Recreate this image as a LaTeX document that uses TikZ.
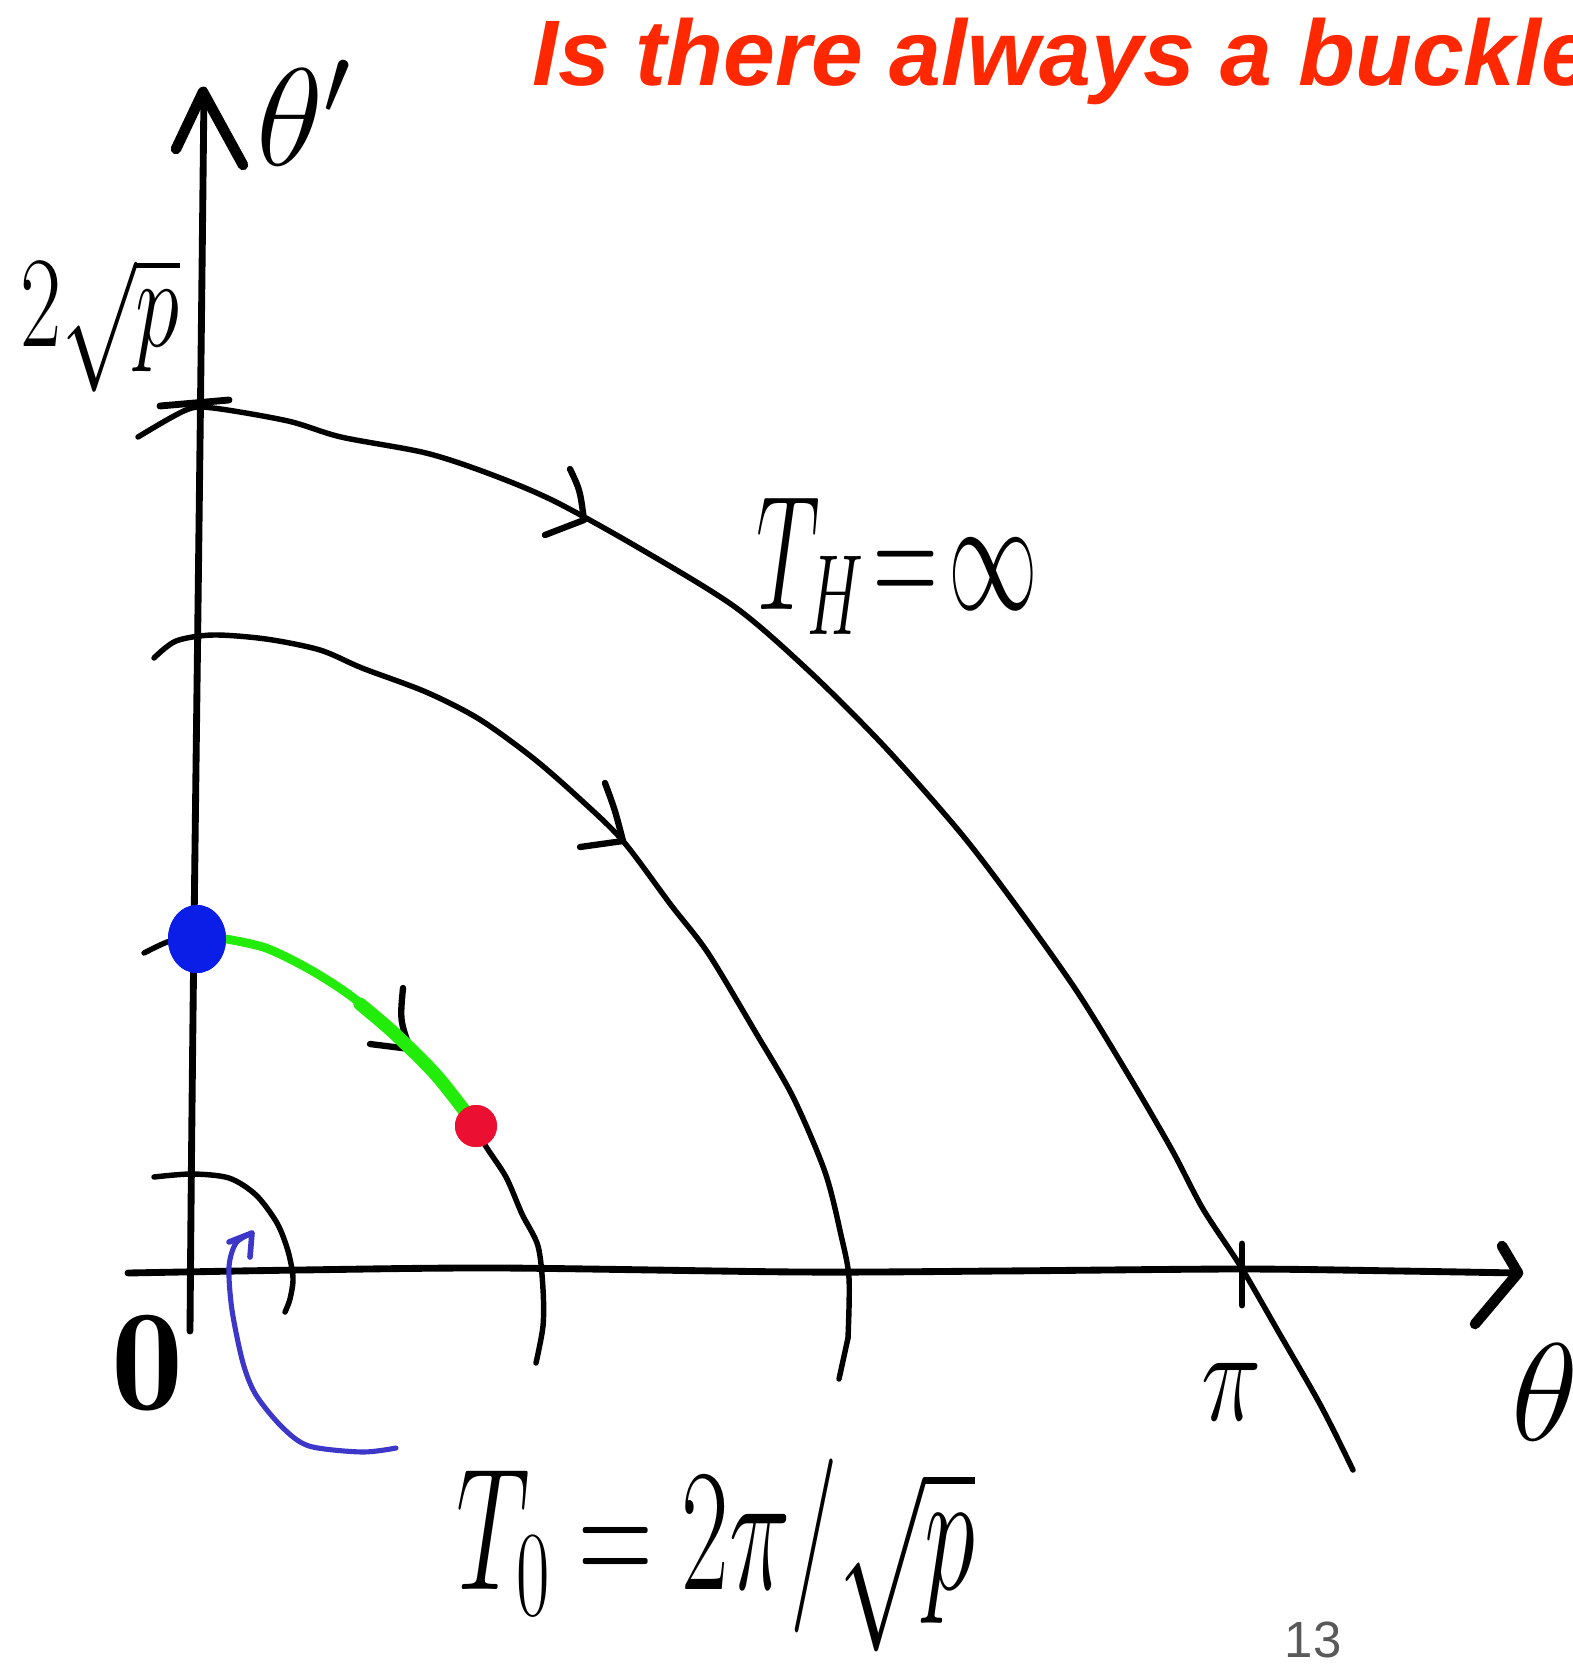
\RequirePackage{fix-cm}
\documentclass[tikz,border=0pt]{standalone}
\usepackage{fontspec}
\usepackage{graphicx}
\usetikzlibrary{shapes.geometric}
\newfontfamily\titlefont{Liberation Sans}
\definecolor{titlered}{RGB}{255,40,0}
\definecolor{dotblue}{RGB}{10,30,232}
\definecolor{dotred}{RGB}{235,15,50}
\definecolor{pathgreen}{RGB}{35,235,10}
\definecolor{penblue}{RGB}{60,55,200}
\begin{document}
\begin{tikzpicture}[x=0.02cm,y=-0.02cm,
  axis/.style={line width=3.9pt, line cap=round, line join=round},
  curve/.style={line width=3.1pt, line cap=round, line join=round},
  chev/.style={line width=3.6pt, line cap=round, line join=round},
  hand/.style={inner sep=0pt, text=black}]
\useasboundingbox (0,0) rectangle (1572,1670);
\clip (0,0) rectangle (1572,1670);

% title
\node[anchor=base west, inner sep=0pt, text=titlered,
  font=\titlefont\bfseries\itshape\fontsize{53}{60}\selectfont] (title) at (532,85) {Is there always a buckle};

% axes
\draw[axis] (190,1331) .. controls (193,940) and (198,660) .. (204,90);
\draw[line width=6pt, line cap=round, line join=round] (176,149) -- (203,92) -- (243,165);
\draw[axis] plot[smooth, tension=0.5] coordinates {(128,1273) (300,1270) (500,1268) (800,1272) (1000,1271) (1240,1269) (1400,1271) (1518,1273)};
\draw[line width=6pt, line cap=round, line join=round] (1475,1324) -- (1518,1273) -- (1502,1246);
% ticks
\draw[line width=3.9pt, line cap=round] (160,406) -- (229,400);
\draw[line width=3.9pt, line cap=round] (1242,1244) -- (1242,1305);

% outer curve
\draw[curve] plot[smooth, tension=0.5] coordinates {(138,437) (186,410) (213,408) (288,421) (341,437) (426,453) (490,474) (554,501) (639,548) (735,607) (809,671) (884,746) (959,831) (1012,900) (1076,990) (1129,1076) (1172,1150) (1203,1209) (1241,1267) (1278,1331) (1321,1406) (1353,1470)};
\draw[chev] (570,469) .. controls (580,490) .. (584,520) -- (545,535);

% middle curve
\draw[curve] plot[smooth, tension=0.5] coordinates {(154,658) (176,641) (213,635) (266,639) (320,650) (362,668) (426,692) (479,719) (533,758) (580,799) (623,841) (671,905) (708,953) (756,1033) (793,1097) (825,1172) (841,1235) (849,1278) (848,1338)};
\draw[curve] (848,1338) -- (839,1379);
\draw[chev] (605,783) .. controls (615,810) .. (623,841) -- (580,847);

% inner curve
\draw[curve] plot[smooth, tension=0.5] coordinates {(144,953) (170,941) (197,937)};
\draw[curve] plot[smooth, tension=0.5] coordinates {(476,1126) (485,1145) (506,1177) (522,1214) (538,1246) (543,1289) (543,1326) (536,1363)};
\draw[chev] (403,988) .. controls (400,1020) .. (410,1049) -- (370,1044);

% small curve
\draw[curve] plot[smooth, tension=0.5] coordinates {(154,1177) (192,1174) (229,1178) (256,1195) (277,1223) (288,1251) (293,1278) (290,1299) (285,1312)};

% green path and dots
\node[ellipse, fill=dotblue, minimum width=1.16cm, minimum height=1.36cm, inner sep=0pt] (bdot) at (197,939) {};
\node[circle, fill=dotred, minimum size=0.84cm, inner sep=0pt] (rdot) at (476,1126) {};
\draw[pathgreen, line width=5pt, line cap=round] plot[smooth, tension=0.5] coordinates {(bdot.east) (266,948) (309,969) (351,996) (394,1033) (437,1076) (rdot.center)};
\draw[pathgreen, line width=7.5pt, line cap=round] plot[smooth, tension=0.5] coordinates {(360,1004) (394,1033) (437,1076) (rdot.center)};
\node[ellipse, fill=dotblue, minimum width=1.16cm, minimum height=1.36cm, inner sep=0pt] at (bdot) {};
\node[circle, fill=dotred, minimum size=0.84cm, inner sep=0pt] at (rdot) {};

% blue pen arrow
\coordinate (penstart) at (396,1448);
\coordinate (pentip) at (252,1233);
\draw[penblue, line width=2.9pt, line cap=round, line join=round] plot[smooth, tension=0.5] coordinates {(penstart) (362,1452) (309,1446) (282,1427) (256,1395) (243,1363) (232,1310) (229,1267) (236,1243) (pentip)};
\draw[penblue, line width=3.2pt, line cap=round, line join=round] (229,1242) -- (pentip) -- (250,1257);

% labels
\node[hand, anchor=base west, font=\fontsize{79}{90}\selectfont] (thp) at (256,165) {$\theta'$};
\node[hand, font=\fontsize{51}{60}\selectfont] (twosqrtp) at (100,325) {\scalebox{1}[1.45]{$2\sqrt{p}$}};
\node[hand, font=\fontsize{82}{90}\selectfont] (zero) at (148,1363) {$\mathbf{0}$};
\node[hand, font=\fontsize{58}{66}\selectfont] (pilab) at (1232,1392) {\scalebox{1}[1.3]{$\pi$}};
\node[hand, font=\fontsize{79}{90}\selectfont] (thx) at (1545,1392) {$\theta$};
\node[hand, font=\fontsize{60}{70}\selectfont] (TH) at (897,566) {\scalebox{0.85}[1.55]{$T_H\!=\!\infty$}};
\node[hand, font=\fontsize{62}{70}\selectfont] (T0) at (716,1555) {\scalebox{0.95}[1.6]{$T_0=2\pi/\sqrt{p}$}};
\node[inner sep=0pt, text=black!65, font=\titlefont\fontsize{29}{34}\selectfont] (page) at (1313,1640) {13};
\end{tikzpicture}
\end{document}
